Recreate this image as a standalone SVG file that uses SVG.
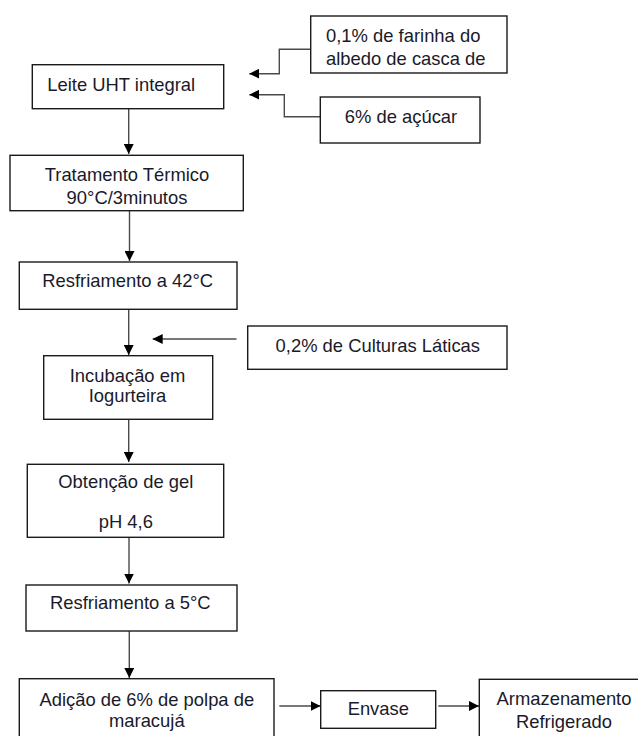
<svg xmlns="http://www.w3.org/2000/svg" width="638" height="736" viewBox="0 0 638 736">
<style>
.box{fill:#fff;stroke:#1a1a1a;stroke-width:1.4}
.t{font-family:"Liberation Sans",Arial,sans-serif;font-size:18.4px;fill:#1a1a2a}
.m{text-anchor:middle}
.c{fill:none;stroke:#4a4a4a;stroke-width:1.4}
</style>
<defs>
<marker id="ah" markerUnits="userSpaceOnUse" markerWidth="10" markerHeight="10" refX="10" refY="5" orient="auto" viewBox="0 0 10 10">
<path d="M0,0 L10,5 L0,10 z" fill="#000"/>
</marker>
</defs>
<rect width="638" height="736" fill="#fff"/>
<g id="connectors">
<path class="c" d="M128.7,108.7 V154" marker-end="url(#ah)"/>
<path class="c" d="M129.5,210.7 V261" marker-end="url(#ah)"/>
<path class="c" d="M128.7,309.3 V355" marker-end="url(#ah)"/>
<path class="c" d="M236.5,339 H152.7" marker-end="url(#ah)"/>
<path class="c" d="M128.7,419.3 V462" marker-end="url(#ah)"/>
<path class="c" d="M129,537.3 V583.5" marker-end="url(#ah)"/>
<path class="c" d="M129.3,631 V678" marker-end="url(#ah)"/>
<path class="c" d="M279.3,706 H320.5" marker-end="url(#ah)"/>
<path class="c" d="M438.3,706 H479" marker-end="url(#ah)"/>
<path class="c" d="M310.7,49.3 H279.3 V73.7 H249.3" marker-end="url(#ah)"/>
<path class="c" d="M320.3,116.7 H284.3 V94.7 H249.3" marker-end="url(#ah)"/>
</g>
<g id="farinha">
<rect class="box" x="310.7" y="16" width="196.3" height="57"/>
<text class="t" x="326" y="41.7">0,1% de farinha do</text>
<text class="t" x="326" y="65">albedo de casca de</text>
</g>
<g id="acucar">
<rect class="box" x="320.3" y="97" width="159.7" height="46"/>
<text class="t m" x="401" y="123.3">6% de açúcar</text>
</g>
<g id="leite">
<rect class="box" x="32.3" y="64.7" width="191.4" height="44"/>
<text class="t" x="47.3" y="90.7">Leite UHT integral</text>
</g>
<g id="tratamento">
<rect class="box" x="10" y="155.3" width="233.3" height="55.4"/>
<text class="t m" x="127" y="180.7">Tratamento Térmico</text>
<text class="t m" x="127" y="204.3">90°C/3minutos</text>
</g>
<g id="resfriamento42">
<rect class="box" x="19.3" y="262" width="217.7" height="47.3"/>
<text class="t m" x="127.7" y="287.3">Resfriamento a 42°C</text>
</g>
<g id="culturas">
<rect class="box" x="247.7" y="326" width="259.3" height="43.3"/>
<text class="t m" x="377.8" y="352.3">0,2% de Culturas Láticas</text>
</g>
<g id="incubacao">
<rect class="box" x="43.7" y="355.7" width="169" height="63.6"/>
<text class="t m" x="127.5" y="381.7">Incubação em</text>
<text class="t m" x="127.5" y="402">Iogurteira</text>
</g>
<g id="obtencao">
<rect class="box" x="27.3" y="464.3" width="196.4" height="73"/>
<text class="t m" x="125.8" y="487.7">Obtenção de gel</text>
<text class="t m" x="125.8" y="528.3">pH 4,6</text>
</g>
<g id="resfriamento5">
<rect class="box" x="26" y="585" width="211" height="46"/>
<text class="t m" x="130.3" y="609">Resfriamento a 5°C</text>
</g>
<g id="adicao">
<rect class="box" x="19.3" y="678.7" width="254.7" height="70"/>
<text class="t m" x="146.8" y="706">Adição de 6% de polpa de</text>
<text class="t m" x="146.8" y="727">maracujá</text>
</g>
<g id="envase">
<rect class="box" x="320.7" y="690.7" width="115" height="37.6"/>
<text class="t m" x="378.3" y="715">Envase</text>
</g>
<g id="armazenamento">
<rect class="box" x="479.3" y="679.3" width="170" height="70"/>
<text class="t m" x="564" y="705">Armazenamento</text>
<text class="t m" x="564" y="728.3">Refrigerado</text>
</g>
</svg>
